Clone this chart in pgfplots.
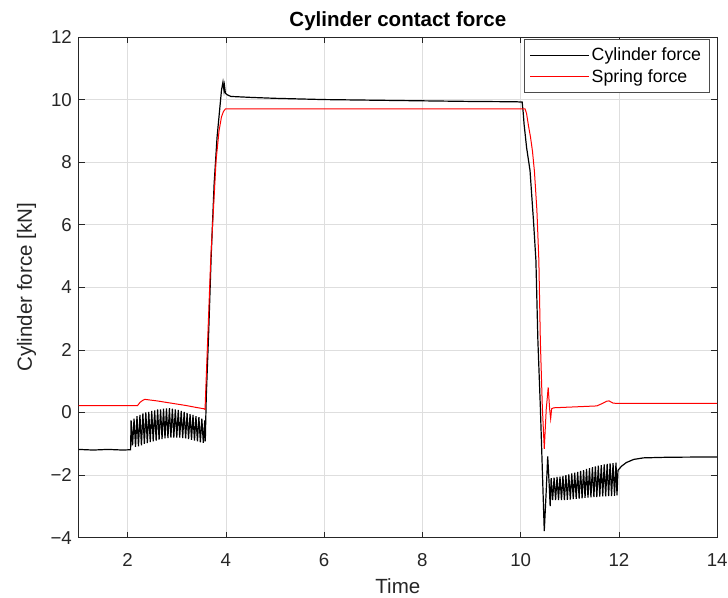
\documentclass[border=0pt]{standalone}
\usepackage{pgfplots}
\pgfplotsset{compat=1.18}
\usepackage{pgfplotstable}
\usepackage{fontspec}
\setmainfont{Liberation Sans}

% Cylinder force [kN] over time
\pgfplotstableread{
t f
1.00 -1.18
1.30 -1.20
1.60 -1.18
1.90 -1.20
2.06 -1.19
2.07 -0.25
2.10 -1.05
2.13 -0.20
2.16 -1.10
2.19 -0.12
2.22 -1.08
2.25 -0.08
2.28 -1.05
2.31 -0.03
2.34 -1.00
2.37 0.00
2.40 -0.98
2.43 0.02
2.46 -0.95
2.49 0.05
2.52 -0.92
2.55 0.07
2.58 -0.90
2.61 0.10
2.64 -0.87
2.67 0.10
2.70 -0.85
2.73 0.12
2.76 -0.83
2.79 0.13
2.82 -0.82
2.85 0.14
2.88 -0.80
2.91 0.12
2.94 -0.80
2.97 0.10
3.00 -0.80
3.03 0.08
3.06 -0.80
3.09 0.05
3.12 -0.82
3.15 0.02
3.18 -0.83
3.21 -0.02
3.24 -0.85
3.27 -0.05
3.30 -0.87
3.33 -0.08
3.36 -0.90
3.39 -0.12
3.42 -0.92
3.45 -0.15
3.48 -0.95
3.51 -0.20
3.54 -0.97
3.57 -0.25
3.58 -0.92
3.60 0.50
3.65 2.60
3.70 5.00
3.76 7.30
3.82 8.80
3.88 9.80
3.91 10.30
3.94 10.56
3.96 10.30
3.97 10.45
3.99 10.20
4.03 10.15
4.10 10.10
4.50 10.07
5.00 10.04
6.00 10.00
7.00 9.98
8.00 9.96
9.00 9.94
9.90 9.93
10.03 9.92
10.05 9.60
10.07 9.20
10.12 8.47
10.19 7.73
10.26 6.14
10.31 4.86
10.35 2.30
10.40 0.19
10.45 -2.30
10.48 -3.79
10.52 -2.50
10.55 -1.40
10.58 -2.30
10.60 -2.99
10.62 -2.10
10.65 -2.80
10.68 -2.08
10.71 -2.80
10.74 -2.06
10.77 -2.80
10.80 -2.05
10.83 -2.80
10.86 -2.03
10.89 -2.80
10.92 -2.00
10.95 -2.79
10.98 -1.98
11.01 -2.78
11.04 -1.95
11.07 -2.77
11.10 -1.92
11.13 -2.76
11.16 -1.90
11.19 -2.75
11.22 -1.87
11.25 -2.74
11.28 -1.84
11.31 -2.73
11.34 -1.80
11.37 -2.72
11.40 -1.78
11.43 -2.71
11.46 -1.75
11.49 -2.70
11.52 -1.72
11.55 -2.70
11.58 -1.70
11.61 -2.69
11.64 -1.68
11.67 -2.68
11.70 -1.66
11.73 -2.68
11.76 -1.64
11.79 -2.67
11.82 -1.63
11.85 -2.67
11.88 -1.62
11.91 -2.66
11.94 -1.60
11.96 -2.65
11.98 -1.85
12.05 -1.72
12.15 -1.60
12.30 -1.50
12.50 -1.45
13.00 -1.43
14.00 -1.42
}\cylinder

% Spring force [kN] over time
\pgfplotstableread{
t f
1.00 0.22
2.20 0.22
2.25 0.32
2.30 0.38
2.35 0.42
2.40 0.41
2.60 0.37
2.80 0.32
3.00 0.27
3.20 0.22
3.40 0.16
3.55 0.12
3.575 0.10
3.69 4.86
3.80 8.06
3.86 9.00
3.91 9.45
3.95 9.62
3.99 9.70
10.09 9.70
10.12 9.55
10.16 9.15
10.20 8.80
10.24 8.35
10.28 7.70
10.33 6.46
10.37 4.86
10.40 2.30
10.44 0.20
10.48 -1.16
10.52 0.10
10.56 0.80
10.59 0.10
10.61 -0.20
10.63 0.12
10.67 0.15
11.55 0.21
11.65 0.28
11.75 0.36
11.80 0.37
11.88 0.30
11.96 0.29
14.00 0.29
}\spring

\begin{document}
\begin{tikzpicture}
\begin{axis}[
  scale only axis,
  width=479pt, height=375.5pt,
  xmin=1, xmax=14, ymin=-4, ymax=12,
  xtick={2,4,...,14},
  ytick={-4,-2,...,12},
  yticklabels={−4,−2,0,2,4,6,8,10,12},
  /pgf/number format/assume math mode=true,
  ticklabel style={font=\fontsize{14}{16}\selectfont, text=black!85},
  xticklabel style={yshift=-8.5pt},
  yticklabel style={xshift=-1.5pt},
  grid=major,
  grid style={color=black!13, line width=0.6pt},
  axis line style={color=black!85, line width=0.6pt},
  tick style={color=black!85, line width=0.6pt},
  tick align=inside,
  major tick length=4.5pt,
  title={Cylinder contact force},
  title style={font=\bfseries\fontsize{15.4}{18}\selectfont, yshift=-4.5pt},
  xlabel={Time},
  ylabel={Cylinder force [kN]},
  label style={font=\fontsize{15.4}{18}\selectfont, text=black!85},
  xlabel style={at={([yshift=-36.2pt]axis description cs:0.5,0)}, anchor=center},
  ylabel style={at={([xshift=-39pt]axis description cs:0,0.5)}, anchor=center},
  legend style={at={(rel axis cs:0.989,0.995)}, anchor=north east,
    draw=black!70, line width=0.6pt, fill=white,
    font=\fontsize{13.3}{16}\selectfont,
    inner xsep=4.5pt, inner ysep=4pt, row sep=1pt},
  legend cell align=left,
  legend image post style={line width=0.8pt},
  legend image code/.code={\draw[#1] (0cm,0cm) -- (1.53cm,0cm);},
]
\addplot[black, line width=0.9pt] table[x=t, y=f] {\cylinder};
\addlegendentry{Cylinder force}
\addplot[red, line width=0.75pt] table[x=t, y=f] {\spring};
\addlegendentry{Spring force}
\end{axis}
\pgfresetboundingbox
\path (-58.9pt,-45.2pt) rectangle (487.1pt,403.25pt);
\end{tikzpicture}
\end{document}
